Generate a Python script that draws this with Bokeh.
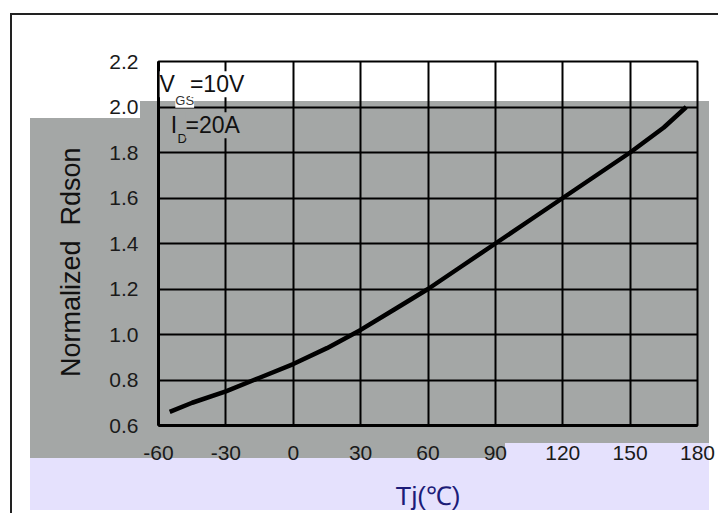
from bokeh.plotting import figure
from bokeh.models import Range1d, FixedTicker, Label, CustomJSTickFormatter
from bokeh.embed import file_html
from bokeh.resources import INLINE

# ---- data ----
tj = [-55, -45, -30, -15, 0, 15, 30, 45, 60, 75, 90, 105, 120, 135, 150, 165, 175]
rdson = [0.66, 0.70, 0.75, 0.81, 0.87, 0.94, 1.02, 1.11, 1.20, 1.30, 1.40, 1.50, 1.60, 1.70, 1.80, 1.91, 2.00]
x_ticks = [-60, -30, 0, 30, 60, 90, 120, 150, 180]
y_ticks = [0.6, 0.8, 1.0, 1.2, 1.4, 1.6, 1.8, 2.0, 2.2]

FONT = "Liberation Sans"
QFONT = '"Liberation Sans"'
GRAY = "#a4a7a6"
LAV = "#e5e1fd"
NAVY = "#1c1c78"

# decorative page background panels: (colour, width, height, left, top)
panels = [
    ("#222222", 2, 520, 10, 13),     # outer frame, left edge
    ("#222222", 720, 2, 10, 13),     # outer frame, top edge
    (LAV, 204, 15, 505, 443),
    (LAV, 679, 52, 30, 458),
    (GRAY, 679, 340, 30, 118),
    (GRAY, 569, 19, 140, 101),
    ("#ffffff", 718, 513, 0, 0),
]
bg_styles = {
    "background-image": ", ".join(f"linear-gradient({c}, {c})" for c, *_ in panels),
    "background-size": ", ".join(f"{w}px {h}px" for _, w, h, _l, _t in panels),
    "background-position": ", ".join(f"{l}px {t}px" for *_, l, t in panels),
    "background-repeat": "no-repeat",
}

p = figure(width=718, height=513, output_backend="svg", toolbar_location=None,
           x_range=Range1d(-60, 180), y_range=Range1d(0.6, 2.2),
           min_border_left=158, min_border_right=21, min_border_top=61, min_border_bottom=86)
p.styles = bg_styles
p.background_fill_color = None
p.border_fill_color = None
p.outline_line_color = "black"
p.outline_line_width = 2

p.line(tj, rdson, line_color="black", line_width=4.5)

p.xaxis.ticker = FixedTicker(ticks=x_ticks)
p.yaxis.ticker = FixedTicker(ticks=y_ticks)
p.xaxis.formatter = CustomJSTickFormatter(code="return tick.toFixed(0);")
p.yaxis.formatter = CustomJSTickFormatter(code="return tick.toFixed(1);")

p.xaxis.axis_line_color = "black"
p.yaxis.axis_line_color = "black"
p.xaxis.axis_line_width = 3
p.yaxis.axis_line_width = 3
p.xaxis.major_tick_line_color = None
p.yaxis.major_tick_line_color = None
p.xaxis.minor_tick_line_color = None
p.yaxis.minor_tick_line_color = None
p.xaxis.major_label_text_font = QFONT
p.yaxis.major_label_text_font = FONT
p.xaxis.major_label_text_font_size = "21px"
p.yaxis.major_label_text_font_size = "21px"
p.xaxis.major_label_text_color = "#1a1a1a"
p.yaxis.major_label_text_color = "#1a1a1a"
p.xaxis.axis_label_text_font = FONT
p.yaxis.axis_label_text_font = FONT
p.xaxis.axis_label_text_font_style = "normal"
p.yaxis.axis_label_text_font_style = "normal"

p.xaxis.major_label_standoff = 14
p.yaxis.major_label_standoff = 14

p.xaxis.axis_label = "Tj(℃)"
p.xaxis.axis_label_text_font_size = "26px"
p.xaxis.axis_label_text_color = NAVY
p.xaxis.axis_label_standoff = 18

p.yaxis.axis_label = "Normalized\u00a0 Rdson" + "\u00a0" * 5
p.yaxis.axis_label_text_font_size = "27px"
p.yaxis.axis_label_text_color = "#111111"
p.yaxis.axis_label_standoff = 20

p.grid.grid_line_color = "black"
p.grid.grid_line_width = 2
p.grid.grid_line_alpha = 1

# condition labels
p.add_layout(Label(x=-59.5, y=2.1, text="V", text_font=FONT, text_font_size="23px", text_baseline="middle",
                   background_fill_color="white", text_color="#111111"))
p.add_layout(Label(x=-52.5, y=2.03, text="GS", text_font=FONT, text_font_size="13px", text_baseline="middle",
                   background_fill_color="white", text_color="#333333"))
p.add_layout(Label(x=-46, y=2.1, text="=10V", text_font=FONT, text_font_size="23px", text_baseline="middle",
                   background_fill_color="white", text_color="#111111"))
p.add_layout(Label(x=-54.5, y=1.92, text="I", text_font=FONT, text_font_size="23px", text_baseline="middle",
                   background_fill_color=GRAY, text_color="#111111"))
p.add_layout(Label(x=-51.5, y=1.86, text="D", text_font=FONT, text_font_size="13px", text_baseline="middle",
                   text_color="#111111"))
p.add_layout(Label(x=-48, y=1.92, text="=20A", text_font=FONT, text_font_size="23px", text_baseline="middle",
                   background_fill_color=GRAY, text_color="#111111"))

open("out.html", "w").write(file_html(p, INLINE))
